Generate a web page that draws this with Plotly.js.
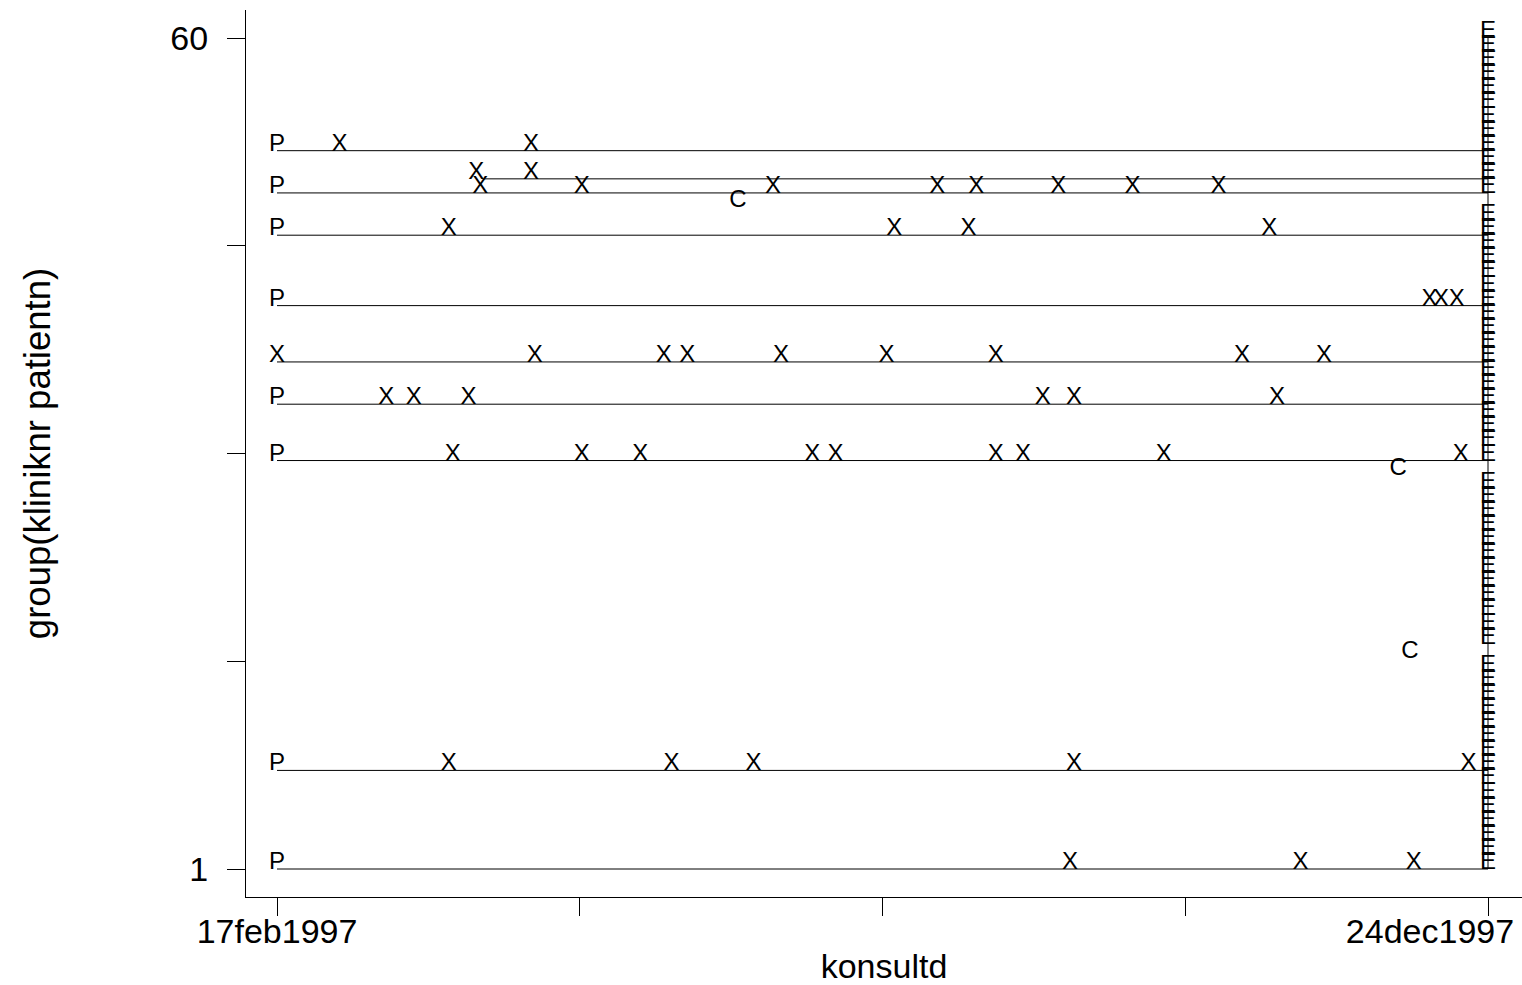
<!DOCTYPE html>
<html>
<head>
<meta charset="utf-8">
<script src="https://cdn.plot.ly/plotly-3.0.1.min.js"></script>
<style>
html, body { margin: 0; padding: 0; background: #ffffff; }
#chart { width: 1522px; height: 985px; }
</style>
</head>
<body>
<div id="chart"></div>
<script>
// ---------------- data ----------------
const startDate = '1997-02-17';
const endDate = '1997-12-24';
const xTitle = 'konsultd';
const yTitle = 'group(kliniknr patientn)';
const xTickLabelFirst = '17feb1997';
const xTickLabelLast = '24dec1997';
const yMin = 1;
const yMax = 60;

// patients drawn with a follow-up line
const linePatient = [52, 50, 49, 46, 41, 37, 34, 30, 8, 1];
const lineStart = ['1997-02-17', '1997-04-11', '1997-02-17', '1997-02-17', '1997-02-17',
                   '1997-02-17', '1997-02-17', '1997-02-17', '1997-02-17', '1997-02-17'];

// "P" marks (at start date)
const pPatient = [52, 49, 46, 41, 34, 30, 8, 1];

// "X" marks
const xPatient = [52, 52,
                  50, 50,
                  49, 49, 49, 49, 49, 49, 49, 49,
                  46, 46, 46, 46,
                  41, 41, 41,
                  37, 37, 37, 37, 37, 37, 37, 37, 37,
                  34, 34, 34, 34, 34, 34,
                  30, 30, 30, 30, 30, 30, 30, 30, 30,
                  8, 8, 8, 8, 8,
                  1, 1, 1];
const xDate = ['1997-03-05', '1997-04-23',
               '1997-04-09', '1997-04-23',
               '1997-04-10', '1997-05-06', '1997-06-24', '1997-08-05', '1997-08-15', '1997-09-05', '1997-09-24', '1997-10-16',
               '1997-04-02', '1997-07-25', '1997-08-13', '1997-10-29',
               '1997-12-09', '1997-12-12', '1997-12-16',
               '1997-02-17', '1997-04-24', '1997-05-27', '1997-06-02', '1997-06-26', '1997-07-23', '1997-08-20', '1997-10-22', '1997-11-12',
               '1997-03-17', '1997-03-24', '1997-04-07', '1997-09-01', '1997-09-09', '1997-10-31',
               '1997-04-03', '1997-05-06', '1997-05-21', '1997-07-04', '1997-07-10', '1997-08-20', '1997-08-27', '1997-10-02', '1997-12-17',
               '1997-04-02', '1997-05-29', '1997-06-19', '1997-09-09', '1997-12-19',
               '1997-09-08', '1997-11-06', '1997-12-05'];

// "C" marks
const cPatient = [48, 29, 16];
const cDate = ['1997-06-15', '1997-12-01', '1997-12-04'];

// "E" marks (at end date)
const ePatient = [60, 59, 58, 57, 56, 55, 54, 53, 52, 51, 50, 49,
                  47, 46, 45, 44, 43, 42, 41, 40, 39, 38, 37, 36, 35, 34, 33, 32, 31, 30,
                  28, 27, 26, 25, 24, 23, 22, 21, 20, 19, 18, 17,
                  15, 14, 13, 12, 11, 10, 9, 8, 7, 6, 5, 4, 3, 2, 1];

// ---------------- layout geometry ----------------
const W = 1522, H = 985;
const plotL = 246, plotR = 1522, plotT = 10, plotB = 897;
const pxStart = 277, pxEnd = 1488;        // x pixel of start / end date
const pxYMax = 38, pxYMin = 869;          // y pixel of yMax / yMin

const msStart = Date.parse(startDate + 'T00:00:00Z');
const msEnd = Date.parse(endDate + 'T00:00:00Z');
const pxPerMs = (pxEnd - pxStart) / (msEnd - msStart);
function iso(ms) { return new Date(ms).toISOString().replace('T', ' ').replace('Z', ''); }
const xRange = [iso(msStart - (pxStart - plotL) / pxPerMs), iso(msEnd + (plotR - pxEnd) / pxPerMs)];

const pxPerUnit = (pxYMin - pxYMax) / (yMax - yMin);
const yRange = [yMin - (plotB - pxYMin) / pxPerUnit, yMax + (pxYMax - plotT) / pxPerUnit];

const labelFontSize = 24;
const textShift = 0.25 * labelFontSize / pxPerUnit;   // put letter baselines on the value
const yRange2 = [yRange[0] + textShift, yRange[1] + textShift];

const xTickVals = [0, 1, 2, 3, 4].map(i => iso(msStart + i * (msEnd - msStart) / 4));
const yTickVals = [0, 1, 2, 3, 4].map(i => yMin + i * (yMax - yMin) / 4);

const FONT = 'Liberation Sans, Arial, Helvetica, sans-serif';

// ---------------- traces ----------------
const segX = [], segY = [];
linePatient.forEach((p, i) => { segX.push(lineStart[i], endDate, null); segY.push(p, p, null); });

const lineTrace = {
  type: 'scatter', mode: 'lines', x: segX, y: segY,
  line: { color: '#000000', width: 1 }, hoverinfo: 'skip', xaxis: 'x', yaxis: 'y'
};
const endLine = {
  type: 'scatter', mode: 'lines', x: [endDate, endDate], y: [yMin, yMax],
  line: { color: '#000000', width: 1 }, hoverinfo: 'skip', xaxis: 'x2', yaxis: 'y'
};
function textTrace(xs, ys, letter) {
  return {
    type: 'scatter', mode: 'text', x: xs, y: ys, text: ys.map(() => letter),
    textposition: 'top center', cliponaxis: false,
    textfont: { family: FONT, size: labelFontSize, color: '#000000' },
    hoverinfo: 'skip', xaxis: 'x', yaxis: 'y2'
  };
}
const pTrace = textTrace(pPatient.map(() => startDate), pPatient, 'P');
const xTrace = textTrace(xDate, xPatient, 'X');
const cTrace = textTrace(cDate, cPatient, 'C');
const eTrace = textTrace(ePatient.map(() => endDate), ePatient, 'E');

// ---------------- layout ----------------
const tickFont = { family: FONT, size: 34, color: '#000000' };
const layout = {
  width: W, height: H,
  margin: { l: plotL, r: W - plotR, t: plotT, b: H - plotB, pad: 0 },
  paper_bgcolor: '#ffffff', plot_bgcolor: '#ffffff',
  showlegend: false,
  font: { family: FONT, color: '#000000' },
  xaxis: {
    type: 'date', range: xRange, fixedrange: true,
    tickmode: 'array', tickvals: xTickVals, ticktext: [xTickLabelFirst, '', '', '', ''],
    ticks: 'outside', ticklen: 18, tickwidth: 1, tickcolor: '#000000',
    showline: true, linecolor: '#000000', linewidth: 1,
    showgrid: false, zeroline: false, tickfont: tickFont,
    ticklabelstandoff: -14,
    title: { text: xTitle, font: { family: FONT, size: 34, color: '#000000' }, standoff: 25 },
    automargin: false
  },
  xaxis2: {
    type: 'date', range: xRange, overlaying: 'x', side: 'bottom', anchor: 'y', fixedrange: true,
    tickmode: 'array', tickvals: [endDate], ticktext: [xTickLabelLast],
    ticks: 'outside', ticklen: 18, tickwidth: 1, tickcolor: '#000000',
    showline: false, showgrid: false, zeroline: false, tickfont: tickFont,
    ticklabelstandoff: -14, ticklabelshift: -58, automargin: false
  },
  yaxis: {
    range: yRange, fixedrange: true,
    tickmode: 'array', tickvals: yTickVals, ticktext: ['1', '', '', '', '60'],
    ticks: 'outside', ticklen: 18, tickwidth: 1, tickcolor: '#000000',
    showline: true, linecolor: '#000000', linewidth: 1,
    showgrid: false, zeroline: false, tickfont: tickFont,
    ticklabelstandoff: 12,
    title: { text: yTitle, font: { family: FONT, size: 36.5, color: '#000000' }, standoff: 108 },
    automargin: false
  },
  yaxis2: {
    range: yRange2, overlaying: 'y', side: 'left', fixedrange: true, visible: false
  }
};

Plotly.newPlot('chart', [lineTrace, endLine, pTrace, xTrace, cTrace, eTrace], layout,
  { displayModeBar: false, staticPlot: true });
</script>
</body>
</html>
